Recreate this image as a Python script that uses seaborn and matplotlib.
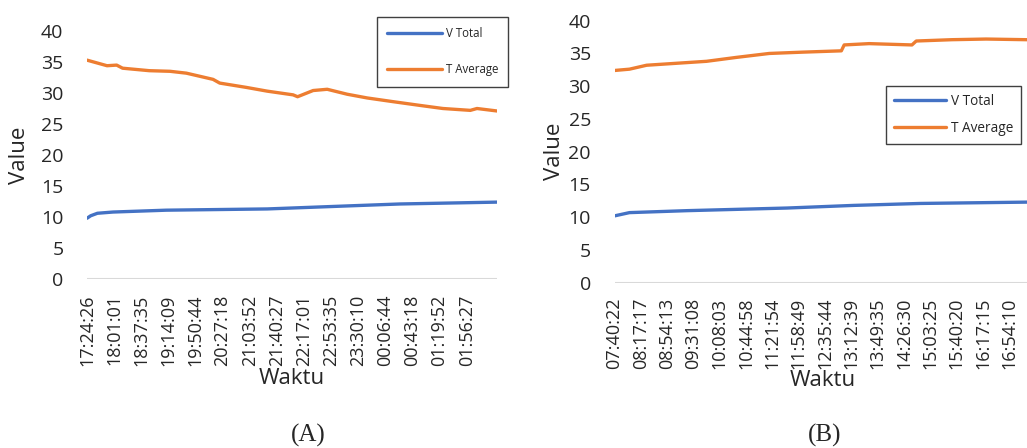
import pandas as pd
import matplotlib.pyplot as plt
import seaborn as sns

# Panel A - elapsed minutes from 17:24:26
a_t_min = [0, 27, 40, 48, 84, 112, 134, 170, 179, 215, 243, 278, 284, 305, 324, 351, 378, 413, 449, 480, 517, 526, 553]
a_t_avg = [35.3, 34.4, 34.5, 34.0, 33.6, 33.5, 33.2, 32.2, 31.6, 30.9, 30.3, 29.7, 29.4, 30.4, 30.6, 29.8, 29.2, 28.6, 28.0, 27.5, 27.2, 27.5, 27.1]
a_v_min = [0, 5, 14, 35, 107, 243, 332, 422, 553]
a_v_total = [9.8, 10.2, 10.6, 10.8, 11.1, 11.3, 11.7, 12.1, 12.4]
a_labels = ['17:24:26', '18:01:01', '18:37:35', '19:14:09', '19:50:44', '20:27:18', '21:03:52',
            '21:40:27', '22:17:01', '22:53:35', '23:30:10', '00:06:44', '00:43:18', '01:19:52', '01:56:27']

# Panel B - elapsed minutes from 07:40:22
b_t_min = [0, 21, 45, 87, 129, 171, 217, 264, 318, 322, 357, 417, 423, 473, 521, 577, 600]
b_t_avg = [32.4, 32.6, 33.2, 33.5, 33.8, 34.4, 35.0, 35.2, 35.4, 36.3, 36.5, 36.3, 36.9, 37.1, 37.2, 37.1, 37.1]
b_v_min = [0, 21, 102, 242, 335, 429, 577, 600]
b_v_total = [10.2, 10.7, 11.0, 11.4, 11.8, 12.1, 12.3, 12.3]
b_labels = ['07:40:22', '08:17:17', '08:54:13', '09:31:08', '10:08:03', '10:44:58', '11:21:54', '11:58:49',
            '12:35:44', '13:12:39', '13:49:35', '14:26:30', '15:03:25', '15:40:20', '16:17:15', '16:54:10']

sns.set_style('white')
plt.rcParams['font.family'] = ['Open Sans', 'DejaVu Sans']

blue = '#4472C4'
orange = '#ED7D31'
W, H = 1027, 448

fig = plt.figure(figsize=(W / 100, H / 100), dpi=100)

def fig_rect(x0, x1, ytop, ybot):
    return [x0 / W, (H - ybot) / H, (x1 - x0) / W, (ybot - ytop) / H]

panels = [
    dict(rect=fig_rect(87, 497, 31, 279), tmin=a_t_min, tval=a_t_avg, vmin=a_v_min, vval=a_v_total,
         labels=a_labels, step=36.575, xmax=553, xlab=(0.5, -0.36), ylab=(-0.139, 0.5),
         leg_anchor=(377 / W, (H - 17) / H), leg_fs=8.3, leg_sp=2.0, leg_hl=4.7, leg_bp=0.9,
         caption='(A)', cap_x=308),
    dict(rect=fig_rect(614.5, 1042.5, 20.7, 282.7), tmin=b_t_min, tval=b_t_avg, vmin=b_v_min, vval=b_v_total,
         labels=b_labels, step=36.917, xmax=600, xlab=(0.487, -0.333), ylab=(-0.116, 0.5),
         leg_anchor=(886 / W, (H - 86) / H), leg_fs=9.8, leg_sp=0.85, leg_hl=3.8, leg_bp=0.6,
         caption='(B)', cap_x=825),
]

for p in panels:
    ax = fig.add_axes(p['rect'])
    sns.lineplot(x=p['vmin'], y=p['vval'], ax=ax, color=blue, lw=2.4, label='V Total')
    sns.lineplot(x=p['tmin'], y=p['tval'], ax=ax, color=orange, lw=2.4, label='T Average')
    ax.axhline(0, color='#d9d9d9', lw=1.5, zorder=0)
    ax.set_xlim(0, p['xmax'])
    ax.set_ylim(0, 40)
    ax.set_yticks(range(0, 41, 5))
    ax.set_xticks([i * p['step'] for i in range(len(p['labels']))])
    ax.set_xticklabels(p['labels'], rotation=90, fontsize=13, color='#262626')
    ax.tick_params(axis='y', labelsize=14, length=0, pad=17, labelcolor='#262626')
    ax.tick_params(axis='x', length=0, pad=11)
    for s in ax.spines.values():
        s.set_visible(False)
    ax.set_xlabel('Waktu', fontsize=16, color='#262626')
    ax.set_ylabel('Value', fontsize=16, color='#262626')
    ax.xaxis.set_label_coords(*p['xlab'])
    ax.yaxis.set_label_coords(*p['ylab'])
    ax.legend(loc='upper left', bbox_to_anchor=p['leg_anchor'], bbox_transform=fig.transFigure,
              fontsize=p['leg_fs'], frameon=True, fancybox=False, edgecolor='#404040',
              handlelength=p['leg_hl'], handletextpad=0.35, labelspacing=p['leg_sp'],
              borderpad=p['leg_bp'], borderaxespad=0, framealpha=1)
    fig.text(p['cap_x'] / W, (H - 435) / H, p['caption'], fontsize=18,
             family=['Liberation Serif', 'DejaVu Serif'], ha='center', va='center')

fig.savefig('out.png', dpi=100)
